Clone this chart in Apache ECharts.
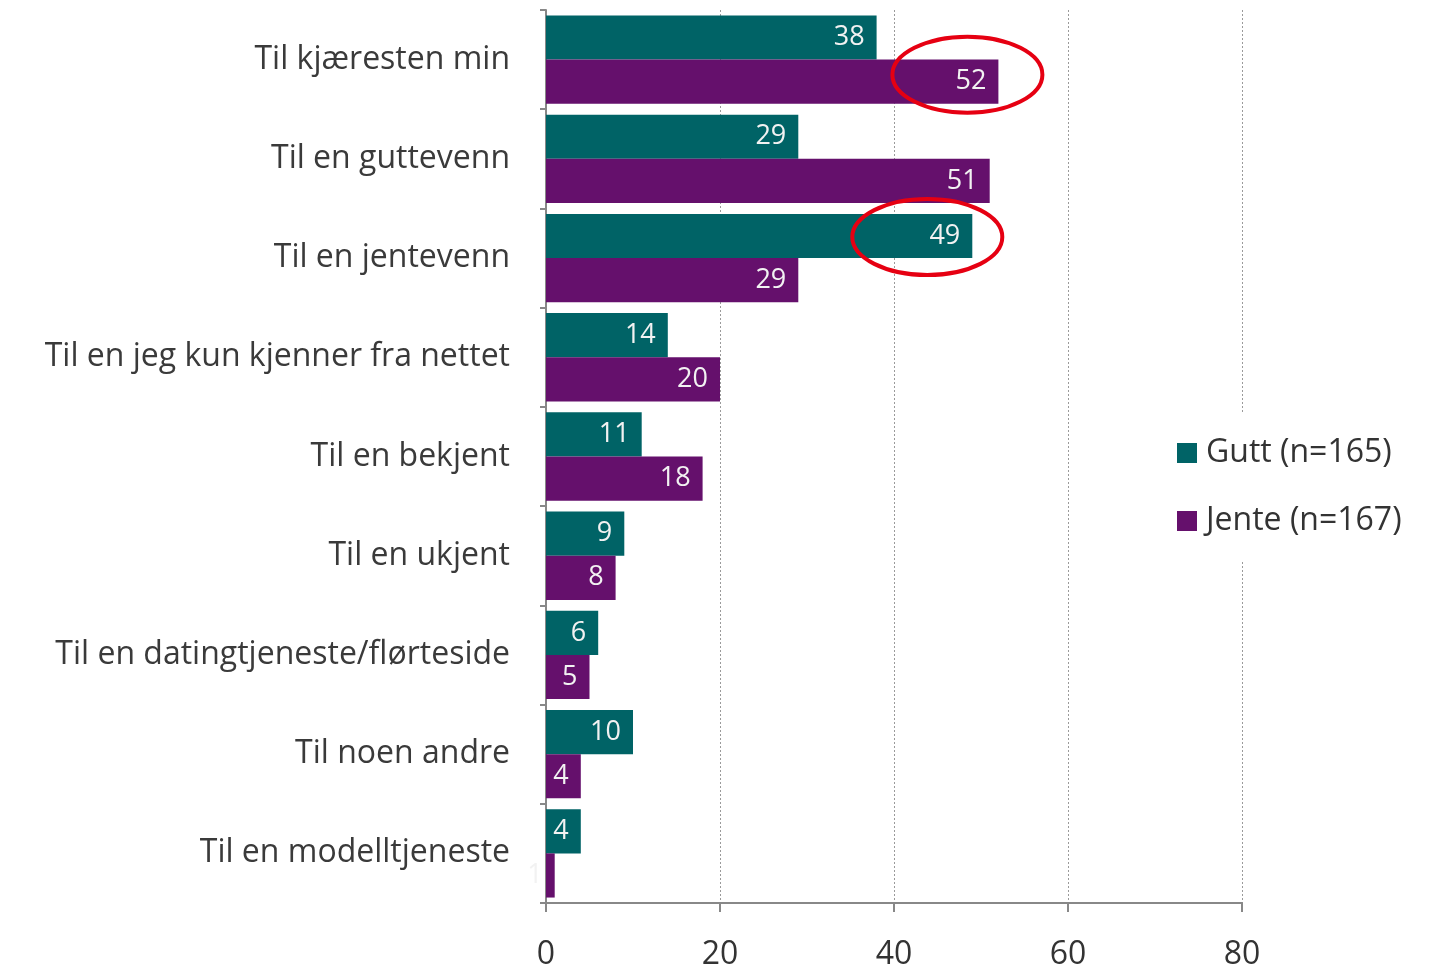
<!DOCTYPE html>
<html>
<head>
<meta charset="utf-8">
<script src="https://cdn.jsdelivr.net/npm/echarts@6/dist/echarts.min.js"></script>
<style>
html,body{margin:0;padding:0;background:#fff;}
#chart{width:1442px;height:971px;}
</style>
</head>
<body>
<div id="chart"></div>
<script>
const categories = [
  "Til kjæresten min",
  "Til en guttevenn",
  "Til en jentevenn",
  "Til en jeg kun kjenner fra nettet",
  "Til en bekjent",
  "Til en ukjent",
  "Til en datingtjeneste/flørteside",
  "Til noen andre",
  "Til en modelltjeneste"
];
const seriesNames = ["Gutt (n=165)", "Jente (n=167)"];
const guttValues = [38, 29, 49, 14, 11, 9, 6, 10, 4];
const jenteValues = [52, 51, 29, 20, 18, 8, 5, 4, 1];
const xTicks = [0, 20, 40, 60, 80];
// highlighted labels (series index, category index)
const highlights = [[1, 0], [0, 2]];

const FONT = "'Open Sans', 'Noto Sans', sans-serif";
const colors = ["#006366", "#65106c"];
const chart = echarts.init(document.getElementById('chart'), null, {renderer: 'canvas'});

const labelCfg = {
  show: true,
  position: 'insideRight',
  distance: 12,
  color: '#f2f2f2',
  fontFamily: FONT,
  fontSize: 27
};
const gapPct = 0.11;

chart.setOption({
  animation: false,
  backgroundColor: '#ffffff',
  grid: {left: 546, right: 200, top: 10, bottom: 67, containLabel: false},
  legend: {
    orient: 'vertical',
    left: 1167,
    top: 413,
    padding: [22, 10, 22, 10],
    backgroundColor: '#ffffff',
    itemWidth: 20,
    itemHeight: 20,
    itemGap: 32,
    icon: 'rect',
    data: seriesNames,
    textStyle: {fontFamily: FONT, fontSize: 32, color: '#333', lineHeight: 36, padding: [0, 0, 0, 4]}
  },
  xAxis: {
    type: 'value',
    min: xTicks[0],
    max: xTicks[xTicks.length - 1],
    interval: xTicks[1] - xTicks[0],
    axisLine: {show: true, lineStyle: {color: '#888', width: 2}},
    axisTick: {show: true, length: 9, lineStyle: {color: '#888', width: 2}},
    axisLabel: {margin: 36, fontFamily: FONT, fontSize: 32, color: '#333'},
    splitLine: {show: true, lineStyle: {color: '#9a9a9a', type: [2, 2], width: 1}}
  },
  yAxis: {
    type: 'category',
    inverse: true,
    data: categories,
    axisLine: {show: true, lineStyle: {color: '#888', width: 2}},
    axisTick: {show: true, length: 6, lineStyle: {color: '#888', width: 2}},
    axisLabel: {margin: 36, fontFamily: FONT, fontSize: 32, color: '#3a3a3a', padding: [5, 0, 0, 0]}
  },
  series: [
    {name: seriesNames[0], type: 'bar', data: guttValues, barGap: '0%', barCategoryGap: (gapPct * 100) + '%',
     itemStyle: {color: colors[0]}, label: labelCfg},
    {name: seriesNames[1], type: 'bar', data: jenteValues, barGap: '0%', barCategoryGap: (gapPct * 100) + '%',
     itemStyle: {color: colors[1]}, label: labelCfg}
  ]
});

// red annotation ellipses around highlighted labels
const allValues = [guttValues, jenteValues];
const y0 = chart.convertToPixel({yAxisIndex: 0}, 0);
const y1 = chart.convertToPixel({yAxisIndex: 0}, 1);
const band = Math.abs(y1 - y0);
const barH = band * (1 - gapPct) / 2;
const ellipses = highlights.map(([s, c]) => {
  const xEnd = chart.convertToPixel({xAxisIndex: 0}, allValues[s][c]);
  const yc = chart.convertToPixel({yAxisIndex: 0}, c);
  const barCenter = yc + (s === 0 ? -barH / 2 : barH / 2);
  return {
    type: 'ellipse',
    z: 100,
    shape: {cx: xEnd - (s === 1 ? 31 : 45), cy: barCenter + (s === 1 ? -7 : 1), rx: 75, ry: 38},
    style: {fill: 'none', stroke: '#e60012', lineWidth: 4}
  };
});
chart.setOption({graphic: ellipses});
</script>
</body>
</html>
